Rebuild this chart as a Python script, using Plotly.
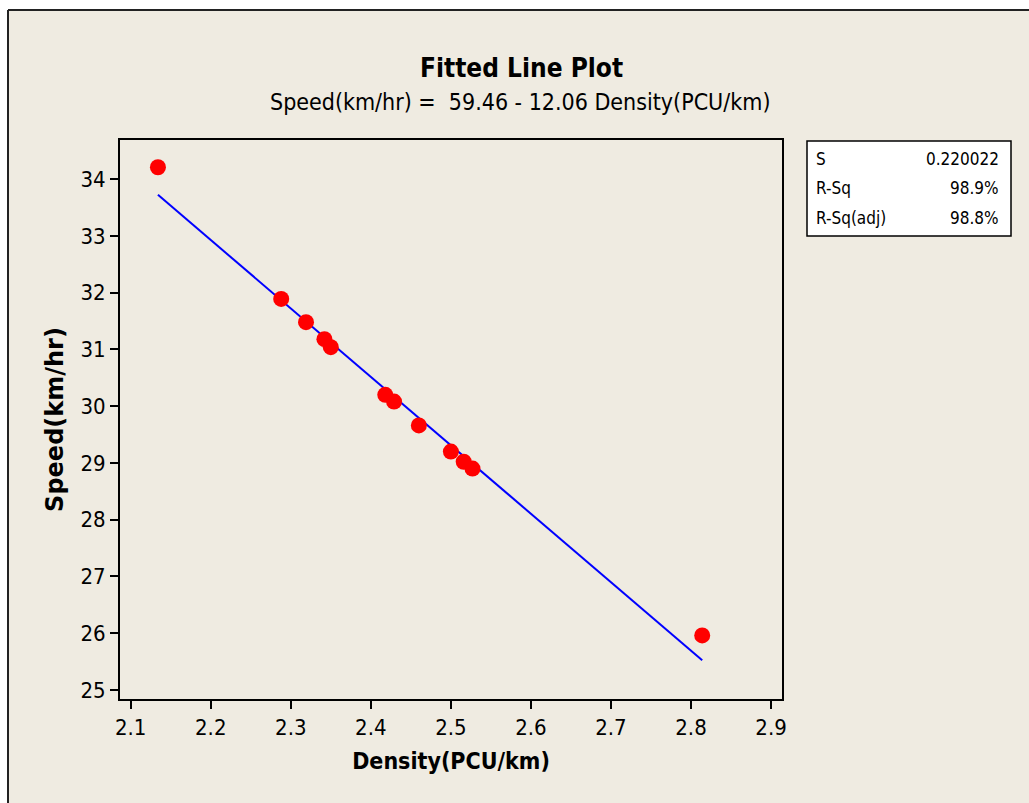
import plotly.graph_objects as go

density = [2.134, 2.288, 2.319, 2.342, 2.350, 2.418, 2.429, 2.460, 2.500, 2.516, 2.527, 2.814]
speed = [34.21, 31.89, 31.48, 31.18, 31.04, 30.20, 30.08, 29.66, 29.20, 29.02, 28.90, 25.96]
intercept = 59.46
slope = -12.06
x_ticks = [2.1, 2.2, 2.3, 2.4, 2.5, 2.6, 2.7, 2.8, 2.9]
y_ticks = [25, 26, 27, 28, 29, 30, 31, 32, 33, 34]
stat_names = ["S", "R-Sq", "R-Sq(adj)"]
stat_values = ["0.220022", "98.9%", "98.8%"]

OFF = 0  # page body margin removed by post_script
W, H = 1029, 803
L, R, T, B = 120, 782, 140, 699  # screen px of plot area
pw, ph = R - L, B - T

def px(xp):
    return (xp - L) / pw

def py(yp):
    return (B - yp) / ph

line_x = [min(density), max(density)]
line_y = [intercept + slope * v for v in line_x]

fig = go.Figure()
fig.add_trace(go.Scatter(x=line_x, y=line_y, mode="lines",
                         line=dict(color="#0000FF", width=2), showlegend=False))
fig.add_trace(go.Scatter(x=density, y=speed, mode="markers",
                         marker=dict(color="#FF0000", size=16, line=dict(width=0)),
                         showlegend=False))

tickfont = dict(family="DejaVu Sans Condensed", size=22, color="black")
fig.update_xaxes(range=[2.0866, 2.9137], tickvals=x_ticks, ticktext=[f"{v:.1f}" for v in x_ticks],
                 ticks="outside", ticklen=8, tickwidth=2, tickcolor="black",
                 showline=True, linewidth=2, linecolor="black", mirror=True,
                 showgrid=False, zeroline=False, tickfont=tickfont,
                 title=dict(text="<b>Density(PCU/km)</b>",
                            font=dict(family="DejaVu Sans Condensed", size=23, color="black"), standoff=13))
fig.update_yaxes(range=[24.84, 34.69], tickvals=y_ticks,
                 ticks="outside", ticklen=8, tickwidth=2, tickcolor="black",
                 showline=True, linewidth=2, linecolor="black", mirror=True,
                 showgrid=False, zeroline=False, tickfont=tickfont,
                 title=dict(text="<b>Speed(km/hr)</b>",
                            font=dict(family="DejaVu Sans", size=24, color="black"), standoff=10))

shapes = [
    dict(type="rect", xref="paper", yref="paper", x0=px(8), x1=px(1060), y0=py(830), y1=py(10),
         fillcolor="#EFEBE1", line=dict(width=0), layer="below"),
    dict(type="line", xref="paper", yref="paper", x0=px(8), x1=px(1060), y0=py(10), y1=py(10),
         line=dict(color="#222222", width=2), layer="below"),
    dict(type="line", xref="paper", yref="paper", x0=px(8), x1=px(8), y0=py(830), y1=py(10),
         line=dict(color="#222222", width=2), layer="below"),
    dict(type="rect", xref="paper", yref="paper", x0=px(807), x1=px(1011), y0=py(236), y1=py(141),
         fillcolor="white", line=dict(color="black", width=1.5)),
]

annotations = [
    dict(text="<b>Fitted Line Plot</b>", x=px(521), y=py(68), xref="paper", yref="paper",
         xanchor="center", yanchor="middle",
         showarrow=False, font=dict(family="DejaVu Sans Condensed", size=26, color="black")),
    dict(text="Speed(km/hr) =  59.46 - 12.06 Density(PCU/km)", x=px(520), y=py(102), xref="paper", yref="paper",
         xanchor="center", yanchor="middle",
         showarrow=False, font=dict(family="DejaVu Sans Condensed", size=23, color="black")),
]
for i, (n, v) in enumerate(zip(stat_names, stat_values)):
    yy = py(159 + i * 29.5)
    annotations.append(dict(text=n, x=px(814), y=yy, xref="paper", yref="paper",
                            xanchor="left", yanchor="middle",
                            showarrow=False, font=dict(family="DejaVu Sans Condensed", size=17, color="black")))
    annotations.append(dict(text=v, x=px(1001), y=yy, xref="paper", yref="paper",
                            xanchor="right", yanchor="middle",
                            showarrow=False, font=dict(family="DejaVu Sans Condensed", size=17, color="black")))

fig.update_layout(width=W, height=H,
                  margin=dict(l=L - OFF, r=W - (R - OFF), t=T - OFF, b=H - (B - OFF)),
                  paper_bgcolor="white", plot_bgcolor="white",
                  shapes=shapes, annotations=annotations, showlegend=False)

fig.write_html("out.html", config={"displayModeBar": False},
               post_script="document.body.style.margin='0';document.body.style.overflow='hidden';")
